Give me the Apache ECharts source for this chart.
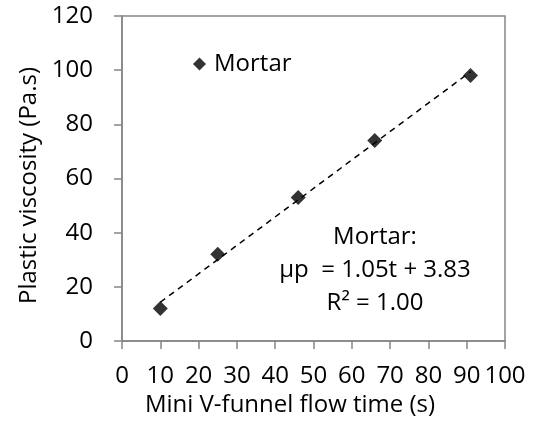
<!DOCTYPE html>
<html><head><meta charset="utf-8">
<script src="https://cdn.jsdelivr.net/npm/echarts@6/dist/echarts.min.js"></script>
<style>html,body{margin:0;padding:0;background:#fff}#c{width:545px;height:424px}</style>
</head><body><div id="c"></div>
<script>
var flowTime = [10, 25, 46, 66, 91];
var viscosity = [12, 32, 53, 74, 98];
var trendX = [10, 91];
var trendY = [14.3, 99.4];
var seriesName = 'Mortar';
var eqLines = ['Mortar:', 'μp  = 1.05t + 3.83', 'R² = 1.00'];

var FONT = '"Open Sans", Lato, sans-serif';
var FS = 24;
var chart = echarts.init(document.getElementById('c'), null, {renderer: 'canvas'});
var axisCol = '#868686';
chart.setOption({
  animation: false,
  grid: {left: 122, right: 40, top: 16, bottom: 83, show: true, borderColor: axisCol, borderWidth: 1.5},
  legend: {
    data: [{name: seriesName, icon: 'diamond'}],
    left: 188, top: 47, itemWidth: 13, itemHeight: 13,
    textStyle: {fontFamily: FONT, fontSize: FS, color: '#000', padding: [0, 0, 0, 3]}
  },
  xAxis: {
    type: 'value', min: 0, max: 100, interval: 10,
    name: 'Mini V-funnel flow time (s)', nameLocation: 'middle', nameGap: 51,
    nameTextStyle: {fontFamily: FONT, fontSize: FS, color: '#000', padding: [0, 47, 0, 0]},
    axisLine: {show: true, lineStyle: {color: axisCol, width: 1.5}},
    axisTick: {show: true, length: 8, lineStyle: {color: axisCol, width: 1.5}},
    axisLabel: {fontFamily: FONT, fontSize: FS, color: '#000', margin: 23},
    splitLine: {show: false}
  },
  yAxis: {
    type: 'value', min: 0, max: 120, interval: 20,
    name: 'Plastic viscosity (Pa.s)', nameLocation: 'middle', nameGap: 76,
    nameTextStyle: {fontFamily: FONT, fontSize: FS, color: '#000', padding: [0, 14, 0, 0]},
    axisLine: {show: true, lineStyle: {color: axisCol, width: 1.5}},
    axisTick: {show: true, length: 8, lineStyle: {color: axisCol, width: 1.5}},
    axisLabel: {fontFamily: FONT, fontSize: FS, color: '#000', margin: 29},
    splitLine: {show: false}
  },
  series: [
    {
      name: seriesName, type: 'scatter', symbol: 'diamond', symbolSize: 15,
      itemStyle: {color: '#000'},
      data: flowTime.map(function (x, i) { return [x, viscosity[i]]; }),
      z: 3
    },
    {
      name: 'trend', type: 'line', symbol: 'none',
      lineStyle: {color: '#000', width: 1.5, type: [6, 5]},
      data: trendX.map(function (x, i) { return [x, trendY[i]]; }),
      z: 2
    }
  ],
  graphic: [{
    type: 'text', x: 375, y: 221,
    style: {
      text: eqLines.join('\n'), align: 'center', verticalAlign: 'top',
      fontFamily: FONT, fontSize: FS, lineHeight: 33, fill: '#000'
    }
  }]
});
</script></body></html>
